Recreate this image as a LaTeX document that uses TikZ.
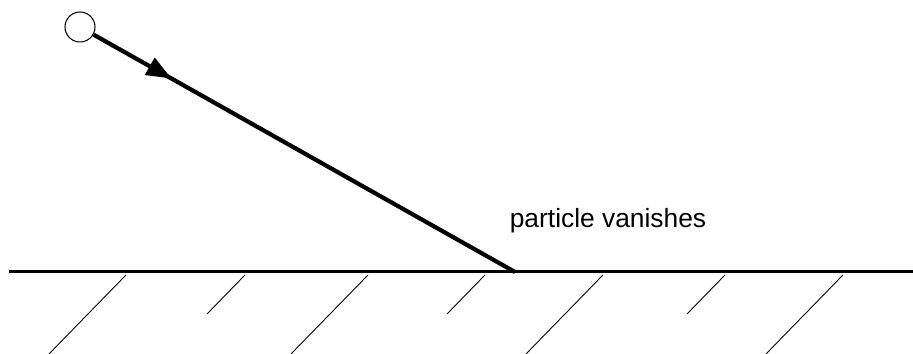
\documentclass[tikz,border=0pt]{standalone}
\usepackage{fontspec}
\setmainfont{Liberation Sans}
\usetikzlibrary{arrows.meta, positioning, decorations.markings, calc}

\tikzset{
  ground/.style={line width=1.7pt},
  hatch/.style={line width=0.5pt},
  track/.style={line width=2.4pt,
    postaction={decorate},
    decoration={markings,
      mark=at position 0.185 with {\arrow{Triangle[length=0.5cm, width=0.38cm]}}}},
  particlenode/.style={circle, draw, line width=0.6pt, fill=white,
    minimum size=0.6cm, inner sep=0pt},
}

\begin{document}
\begin{tikzpicture}
      \useasboundingbox (0,0) rectangle (18.26,7.08);
      % ground and hatching
      \coordinate (gleft) at (0.18,1.64);
      \coordinate (gright) at (18.26,1.64);
      \draw[ground] (gleft) -- (gright);
      \foreach \x in {2.52, 7.36, 12.06, 16.86}
        \draw[hatch] (\x,1.58) -- ++(-1.54,-1.58);
      \foreach \x in {4.9, 9.7, 14.5}
        \draw[hatch] (\x,1.58) -- ++(-0.76,-0.78);
      % particle and its track
      \node[particlenode] (particle) at (1.6,6.54) {};
      \coordinate (vanish) at (10.3,1.64);
      \draw[track] (particle) -- (vanish);
      \node[font=\fontsize{15}{17}\selectfont] (label) at (12.16,2.66)
            {particle vanishes};
    \end{tikzpicture}
\end{document}
